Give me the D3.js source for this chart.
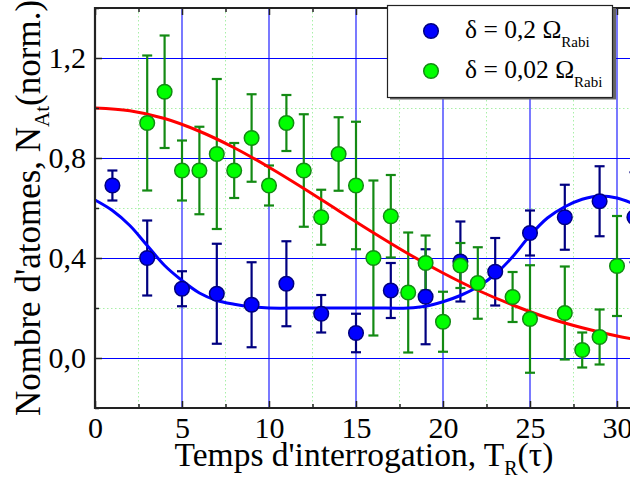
<!DOCTYPE html>
<html><head><meta charset="utf-8">
<script src="https://cdn.jsdelivr.net/npm/d3@7"></script>
<style>
body{margin:0;background:#fff}
svg{display:block}
text{font-family:"Liberation Serif","Times New Roman",serif;fill:#000}
</style>
</head><body>
<svg id="c" width="630" height="481"></svg>
<script>
// ---- data ----
const blueT   = [1,3,5,7,9,11,13,15,17,19,21,23,25,27,29,31];
const blueN   = [0.69,0.40,0.277,0.257,0.213,0.297,0.177,0.10,0.27,0.245,0.386,0.345,0.50,0.563,0.627,0.563];
const blueErr = [0.06,0.15,0.07,0.20,0.17,0.17,0.075,0.077,0.11,0.19,0.16,0.135,0.09,0.13,0.14,0.18];

const greenT   = [3,4,5,6,7,8,9,10,11,12,13,14,15,16,17,18,19,20,21,22,24,25,27,28,29,30];
const greenN   = [0.94,1.065,0.75,0.75,0.816,0.75,0.88,0.69,0.94,0.75,0.563,0.816,0.69,0.40,0.567,0.262,0.38,0.145,0.37,0.30,0.244,0.156,0.18,0.032,0.084,0.368];
const greenErr = [0.27,0.225,0.12,0.175,0.30,0.11,0.175,0.08,0.112,0.225,0.11,0.147,0.255,0.31,0.165,0.24,0.11,0.12,0.09,0.143,0.10,0.215,0.186,0.07,0.11,0.20];

// fitted curves
const redFitT = [0,2,4,6,8,10,12,14,16,18,20,22,24,26,28,30,32];
const redFitN = [1.0,0.989,0.958,0.907,0.841,0.763,0.678,0.589,0.501,0.417,0.340,0.271,0.212,0.161,0.121,0.088,0.063];
const blueFitT = [0,1,2,3,4,5,6,7,8,9,10,12,14,16,18,19,20,21,22,23,24,25,26,27,28,29,30,31,32];
const blueFitN = [0.632,0.59,0.53,0.45,0.37,0.31,0.26,0.23,0.215,0.205,0.2,0.2,0.2,0.2,0.2,0.207,0.225,0.25,0.285,0.335,0.405,0.49,0.56,0.605,0.635,0.648,0.64,0.615,0.58];

const xTicks = [0,5,10,15,20,25,30];
const xTickLabels = ["0","5","10","15","20","25","30"];
const xMinor = [2.5,7.5,12.5,17.5,22.5,27.5,32.5];
const yTicks = [0,0.4,0.8,1.2];
const yTickLabels = ["0,0","0,4","0,8","1,2"];
const yMinor = [-0.2,0.2,0.6,1.0,1.4];
const legendLabels = ["δ = 0,2 Ω","δ = 0,02 Ω"];
const legendSub = "Rabi";

// ---- drawing ----
const FONT = '"Liberation Serif","Times New Roman",serif';
const svg = d3.select("#c");
const x = d3.scaleLinear().domain([0,32]).range([95, 95+17.4*32]);
const y = d3.scaleLinear().domain([-0.2,1.4]).range([408, 8]);
const X0 = x.range()[0], X1 = x.range()[1], Y0 = y.range()[0], Y1 = y.range()[1];

const plot = svg.append("g");
// minor grid
plot.selectAll(".mgx").data(xMinor).join("line")
  .attr("x1",d=>x(d)).attr("x2",d=>x(d)).attr("y1",Y1).attr("y2",Y0)
  .attr("stroke","#a8f0a8").attr("stroke-width",1).attr("stroke-dasharray","1.5,2.5");
plot.selectAll(".mgy").data(yMinor.filter(d=>d>-0.2&&d<1.4)).join("line")
  .attr("x1",X0).attr("x2",X1).attr("y1",d=>Math.round(y(d))+0.5).attr("y2",d=>Math.round(y(d))+0.5)
  .attr("stroke","#a8f0a8").attr("stroke-width",1).attr("stroke-dasharray","1.5,2.5");
// major grid
plot.selectAll(".gx").data(xTicks.filter(d=>d>0)).join("line")
  .attr("x1",d=>x(d)).attr("x2",d=>x(d)).attr("y1",Y1).attr("y2",Y0)
  .attr("stroke","#2020ff").attr("stroke-width",1.2);
plot.selectAll(".gy").data(yTicks).join("line")
  .attr("x1",X0).attr("x2",X1).attr("y1",d=>Math.round(y(d))+0.5).attr("y2",d=>Math.round(y(d))+0.5)
  .attr("stroke","#0000ff").attr("stroke-width",1);

function errorBars(T, N, E, color){
  const g = plot.append("g").attr("stroke",color).attr("stroke-width",2.2).attr("fill","none");
  T.forEach((t,i)=>{
    const cx = x(t), yt = y(N[i]+E[i]), yb = y(N[i]-E[i]);
    g.append("line").attr("x1",cx).attr("x2",cx).attr("y1",yt).attr("y2",yb);
    g.append("line").attr("x1",cx-5).attr("x2",cx+5).attr("y1",yt).attr("y2",yt);
    g.append("line").attr("x1",cx-5).attr("x2",cx+5).attr("y1",yb).attr("y2",yb);
  });
}
errorBars(blueT, blueN, blueErr, "#000080");
errorBars(greenT, greenN, greenErr, "#138a13");

const line = d3.line().x(d=>x(d[0])).y(d=>y(d[1])).curve(d3.curveCatmullRom);
plot.append("path").datum(redFitT.map((t,i)=>[t,redFitN[i]]))
  .attr("d",line).attr("fill","none").attr("stroke","#ff0000").attr("stroke-width",3);
plot.append("path").datum(blueFitT.map((t,i)=>[t,blueFitN[i]]))
  .attr("d",line).attr("fill","none").attr("stroke","#0000ff").attr("stroke-width",3);

plot.append("g").selectAll("circle").data(blueT).join("circle")
  .attr("cx",d=>x(d)).attr("cy",(d,i)=>y(blueN[i])).attr("r",7.3)
  .attr("fill","#0000ff").attr("stroke","#000080").attr("stroke-width",1.5);
plot.append("g").selectAll("circle").data(greenT).join("circle")
  .attr("cx",d=>x(d)).attr("cy",(d,i)=>y(greenN[i])).attr("r",7.3)
  .attr("fill","#00ff00").attr("stroke","#138a13").attr("stroke-width",1.5);

// axes (inward ticks)
function styleAxis(g){
  g.select(".domain").remove();
  g.selectAll(".tick line").attr("stroke","#222").attr("stroke-width",1.5);
  g.selectAll("text").style("font-family",FONT).attr("font-size",30);
}
function minorAxis(g){ g.select(".domain").remove(); g.selectAll("text").remove(); g.selectAll(".tick line").attr("stroke","#222").attr("stroke-width",1.5); }
svg.append("g").attr("transform",`translate(0,${Y0})`)
  .call(d3.axisBottom(x).tickValues(xTicks).tickSize(-7).tickPadding(9).tickFormat((d,i)=>xTickLabels[i]))
  .call(styleAxis);
svg.append("g").attr("transform",`translate(0,${Y0})`)
  .call(d3.axisBottom(x).tickValues(xMinor).tickSize(-4)).call(minorAxis);
svg.append("g").attr("transform",`translate(0,${Y1})`)
  .call(d3.axisTop(x).tickValues(xTicks).tickSize(-7)).call(minorAxis);
svg.append("g").attr("transform",`translate(0,${Y1})`)
  .call(d3.axisTop(x).tickValues(xMinor).tickSize(-4)).call(minorAxis);
svg.append("g").attr("transform",`translate(${X0},0)`)
  .call(d3.axisLeft(y).tickValues(yTicks).tickSize(-7).tickPadding(9).tickFormat((d,i)=>yTickLabels[i]))
  .call(styleAxis);
svg.append("g").attr("transform",`translate(${X0},0)`)
  .call(d3.axisLeft(y).tickValues(yMinor).tickSize(-4)).call(minorAxis);

// frame
svg.append("path").attr("d",`M${X1},${Y1}H${X0}V${Y0}H${X1}`)
  .attr("fill","none").attr("stroke","#222").attr("stroke-width",2.2);

// axis titles
const xt = svg.append("text").attr("x",364).attr("y",466).attr("text-anchor","middle")
  .attr("font-size",33.5).style("font-family",FONT);
xt.append("tspan").text("Temps d'interrogation, T");
xt.append("tspan").attr("font-size",20).attr("dy",9).text("R");
xt.append("tspan").attr("dy",-9).text("(τ)");

const yt = svg.append("text").attr("transform","translate(40,208) rotate(-90)").attr("text-anchor","middle")
  .attr("font-size",35).style("font-family",FONT);
yt.append("tspan").text("Nombre d'atomes, N");
yt.append("tspan").attr("font-size",21).attr("dy",9).text("At");
yt.append("tspan").attr("dy",-9).text("(norm.)");

// legend
const lg = svg.append("g");
lg.append("rect").attr("x",390).attr("y",8).attr("width",226).attr("height",91.5).attr("fill","#666");
lg.append("rect").attr("x",387.5).attr("y",5.5).attr("width",225).attr("height",92).attr("fill","#fff").attr("stroke","#222").attr("stroke-width",1.2);
const legColors = [["#0000ff","#000080"],["#00ff00","#138a13"]];
legendLabels.forEach((lab,i)=>{
  const cy = 31 + i*40;
  lg.append("circle").attr("cx",431).attr("cy",cy).attr("r",7.3)
    .attr("fill",legColors[i][0]).attr("stroke",legColors[i][1]).attr("stroke-width",1.5);
  const t = lg.append("text").attr("x",465).attr("y",cy+7).attr("font-size",25.5).style("font-family",FONT);
  t.append("tspan").text(lab);
  t.append("tspan").attr("font-size",15).attr("dy",9).text(legendSub);
});
</script>
</body></html>
